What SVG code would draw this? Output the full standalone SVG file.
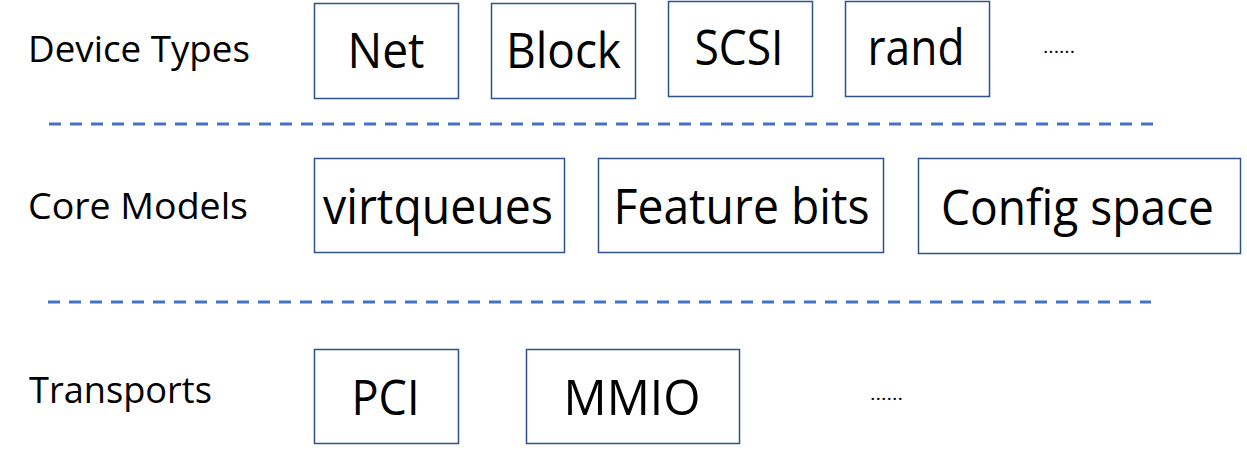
<svg xmlns="http://www.w3.org/2000/svg" width="1247" height="461" viewBox="0 0 1247 461">
  <style>
    .box { fill: #ffffff; stroke: #2F528F; stroke-width: 1.5; }
    .btxt { font-family: "Open Sans", "Noto Sans", "Liberation Sans", sans-serif; font-size: 49px; fill: #000000; text-anchor: middle; }
    .lbl { font-family: "Open Sans", "Noto Sans", "Liberation Sans", sans-serif; font-size: 36px; fill: #000000; }
    .dots { font-family: "Open Sans", "Noto Sans", "Liberation Sans", sans-serif; font-size: 18px; fill: #000000; }
    .sep { stroke: #4472C4; stroke-width: 3; stroke-dasharray: 12 9; fill: none; }
  </style>
  <rect width="1247" height="461" fill="#ffffff"/>

  <g id="labels">
    <text class="lbl" x="28" y="62" textLength="222" lengthAdjust="spacingAndGlyphs">Device Types</text>
    <text class="lbl" x="28" y="219" textLength="220" lengthAdjust="spacingAndGlyphs">Core Models</text>
    <text class="lbl" x="29" y="403" textLength="183" lengthAdjust="spacingAndGlyphs">Transports</text>
  </g>

  <g id="connectors">
    <line class="sep" x1="49" y1="124" x2="1155" y2="124"/>
    <line class="sep" x1="48" y1="302" x2="1151" y2="302"/>
  </g>

  <g id="net">
    <rect class="box" x="314.5" y="3.5" width="144" height="95"/>
    <text class="btxt" x="386" y="68" textLength="77" lengthAdjust="spacingAndGlyphs">Net</text>
  </g>
  <g id="block">
    <rect class="box" x="491.5" y="3.5" width="144" height="95"/>
    <text class="btxt" x="563.5" y="68" textLength="115" lengthAdjust="spacingAndGlyphs">Block</text>
  </g>
  <g id="scsi">
    <rect class="box" x="668.5" y="1.5" width="144" height="95"/>
    <text class="btxt" x="739" y="65" textLength="89" lengthAdjust="spacingAndGlyphs">SCSI</text>
  </g>
  <g id="rand">
    <rect class="box" x="845.5" y="1.5" width="144" height="95"/>
    <text class="btxt" x="916" y="65" textLength="97" lengthAdjust="spacingAndGlyphs">rand</text>
  </g>
  <g id="more-devices">
    <text class="dots" x="1043" y="53" textLength="32" lengthAdjust="spacingAndGlyphs">......</text>
  </g>

  <g id="virtqueues">
    <rect class="box" x="314.5" y="158.5" width="250" height="94"/>
    <text class="btxt" x="438" y="224" textLength="230" lengthAdjust="spacingAndGlyphs">virtqueues</text>
  </g>
  <g id="feature-bits">
    <rect class="box" x="598.5" y="158.5" width="285" height="94"/>
    <text class="btxt" x="741.5" y="224" textLength="256" lengthAdjust="spacingAndGlyphs">Feature bits</text>
  </g>
  <g id="config-space">
    <rect class="box" x="918.5" y="158.5" width="322" height="95"/>
    <text class="btxt" x="1077.5" y="225" textLength="273" lengthAdjust="spacingAndGlyphs">Config space</text>
  </g>

  <g id="pci">
    <rect class="box" x="314.5" y="349.5" width="144" height="94"/>
    <text class="btxt" x="385.5" y="415" textLength="68" lengthAdjust="spacingAndGlyphs">PCI</text>
  </g>
  <g id="mmio">
    <rect class="box" x="526.5" y="349.5" width="213" height="94"/>
    <text class="btxt" x="632" y="415" textLength="137" lengthAdjust="spacingAndGlyphs">MMIO</text>
  </g>
  <g id="more-transports">
    <text class="dots" x="870" y="400" textLength="33" lengthAdjust="spacingAndGlyphs">......</text>
  </g>
</svg>
